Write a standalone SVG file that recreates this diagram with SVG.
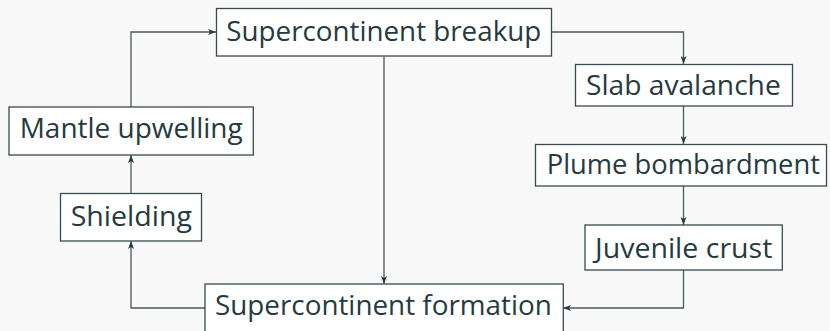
<svg xmlns="http://www.w3.org/2000/svg" width="830" height="331" viewBox="0 0 830 331">
<style>
.bg{fill:#f8f8f8}
.box{fill:#ffffff;stroke:#3a4a4f;stroke-width:1.3}
.lbl{font-family:"Open Sans","Noto Sans","DejaVu Sans",sans-serif;font-size:28px;fill:#263a40}
.edge{fill:none;stroke:#4a5a5f;stroke-width:1.3}
</style>
<defs>
<marker id="ah" viewBox="0 0 8 6" refX="8" refY="3" markerWidth="8" markerHeight="6" markerUnits="userSpaceOnUse" orient="auto">
<path d="M0,0 L8,3 L0,6 L2,3 z" fill="#263a40"/>
</marker>
</defs>
<rect class="bg" x="0" y="0" width="830" height="331"/>
<g id="connectors">
<path class="edge" d="M552,32 H683.5 V64" marker-end="url(#ah)"/>
<path class="edge" d="M683.5,106 V144" marker-end="url(#ah)"/>
<path class="edge" d="M683.5,186 V225" marker-end="url(#ah)"/>
<path class="edge" d="M683.5,270 V308 H563" marker-end="url(#ah)"/>
<path class="edge" d="M384,56 V284" marker-end="url(#ah)"/>
<path class="edge" d="M205,308 H131 V241" marker-end="url(#ah)"/>
<path class="edge" d="M131,193 V155" marker-end="url(#ah)"/>
<path class="edge" d="M131,107 V32 H216" marker-end="url(#ah)"/>
</g>
<g id="breakup">
<rect class="box" x="216.5" y="8.5" width="335" height="47.5"/>
<text class="lbl" x="226.3" y="40.5" textLength="315" lengthAdjust="spacingAndGlyphs">Supercontinent breakup</text>
</g>
<g id="slab">
<rect class="box" x="575.5" y="64.5" width="217" height="41.5"/>
<text class="lbl" x="586" y="95" textLength="194.7" lengthAdjust="spacingAndGlyphs">Slab avalanche</text>
</g>
<g id="plume">
<rect class="box" x="535.5" y="144.5" width="291" height="41.5"/>
<text class="lbl" x="546.7" y="174.3" textLength="273.3" lengthAdjust="spacingAndGlyphs">Plume bombardment</text>
</g>
<g id="juvenile">
<rect class="box" x="585" y="225" width="197.3" height="45"/>
<text class="lbl" x="595" y="258.3" textLength="177.3" lengthAdjust="spacingAndGlyphs">Juvenile crust</text>
</g>
<g id="formation">
<rect class="box" x="205" y="284" width="358.3" height="48"/>
<text class="lbl" x="215" y="315.3" textLength="336.7" lengthAdjust="spacingAndGlyphs">Supercontinent formation</text>
</g>
<g id="shielding">
<rect class="box" x="60.5" y="193.5" width="141" height="47.5"/>
<text class="lbl" x="70.7" y="225.7" textLength="121.3" lengthAdjust="spacingAndGlyphs">Shielding</text>
</g>
<g id="mantle">
<rect class="box" x="9" y="107" width="244.3" height="48"/>
<text class="lbl" x="19.7" y="138.3" textLength="223" lengthAdjust="spacingAndGlyphs">Mantle upwelling</text>
</g>
</svg>
